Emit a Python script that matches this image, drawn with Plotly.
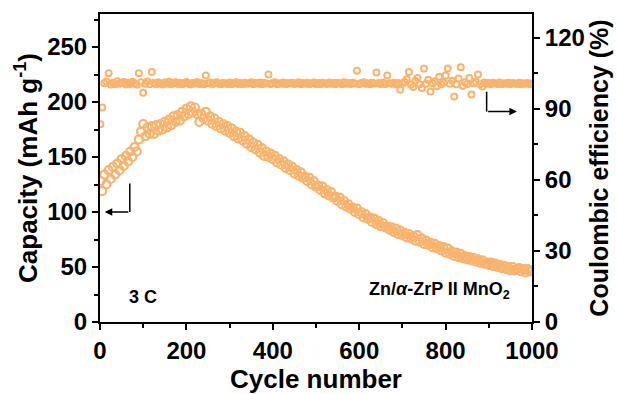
import plotly.graph_objects as go

cycles = [1] + list(range(5, 1001, 5))

capacity = [128, 119, 134, 125, 138, 130, 141, 134, 144, 138,
            148, 142, 151, 146, 155, 150, 159, 155, 166, 173,
            180, 169, 177, 171, 178, 171, 179, 174, 180, 175,
            182, 177, 184, 179, 187, 182, 188, 183, 191, 187,
            194, 189, 196, 191, 195, 189, 182, 189, 185, 191,
            183, 187, 180, 185, 178, 182, 176, 180, 174, 178,
            172, 176, 169, 173, 167, 172, 165, 169, 162, 166,
            159, 163, 157, 161, 154, 158, 151, 155, 150, 153,
            148, 151, 145, 148, 143, 146, 140, 143, 138, 141,
            135, 138, 133, 136, 131, 132, 128, 131, 125, 128,
            123, 124, 120, 123, 117, 120, 115, 118, 113, 114,
            110, 113, 107, 110, 105, 107, 103, 104, 100, 103,
            98, 100, 95, 98, 94, 95, 91, 94, 89, 92,
            87, 90, 86, 87, 84, 86, 82, 85, 80, 83,
            79, 81, 77, 80, 76, 78, 74, 79, 73, 76,
            71, 74, 70, 72, 68, 71, 67, 69, 65, 68,
            63, 67, 62, 64, 60, 63, 59, 62, 58, 60,
            57, 59, 56, 58, 55, 57, 54, 56, 53, 54,
            52, 54, 51, 53, 50, 52, 49, 51, 48, 50,
            47, 50, 47, 48, 49, 46, 48, 45, 48, 46,
            47]

efficiency = [83.5, 90.5, 100.8, 101.5, 105.0, 100.2, 101.0, 100.4, 101.6, 100.6,
              100.9, 101.3, 100.2, 101.0, 100.5, 101.4, 100.7, 100.1, 105.0, 101.2,
              96.8, 100.6, 101.5, 100.3, 105.5, 101.0, 100.4, 101.2, 100.8, 100.2,
              101.1, 100.6, 101.4, 100.3, 100.9, 101.2, 100.5, 101.0, 100.4, 100.8,
              101.3, 100.6, 100.2, 101.0, 100.7, 101.3, 100.5, 100.9, 100.3, 104.0,
              100.8, 101.1, 100.4, 100.9, 101.2, 100.6, 100.3, 101.0, 100.7, 100.5,
              101.1, 100.4, 100.8, 101.2, 100.5, 100.9, 100.3, 101.0, 100.6, 100.8,
              101.2, 100.4, 100.9, 100.6, 101.1, 100.3, 101.0, 100.7, 104.5, 100.5,
              100.9, 101.2, 100.4, 100.8, 100.6, 101.1, 100.3, 100.9, 100.7, 101.0,
              100.5, 100.8, 101.2, 100.4, 100.9, 100.6, 101.0, 100.3, 100.8, 101.1,
              100.5, 100.9, 100.4, 101.0, 100.7, 100.5, 101.1, 100.6, 100.9, 100.3,
              101.0, 100.8, 100.4, 101.2, 100.6, 100.9, 100.5, 101.0, 100.7, 106.0,
              100.4, 100.9, 101.2, 100.6, 100.8, 100.3, 101.0, 100.7, 105.3, 100.9,
              100.5, 101.1, 100.4, 104.0, 100.8, 100.6, 101.0, 100.3, 100.9, 98.0,
              100.7, 101.3, 102.5, 105.5, 100.2, 99.2, 101.8, 103.0, 100.4, 98.8,
              107.0, 100.6, 102.2, 97.3, 100.9, 101.6, 99.5, 103.5, 100.3, 101.0,
              104.0, 107.0, 100.6, 101.8, 95.2, 100.4, 102.8, 107.5, 99.6, 101.2,
              100.5, 103.0, 96.0, 100.8, 101.4, 104.5, 100.3, 99.4, 101.1, 100.6,
              100.9, 100.4, 101.0, 100.7, 100.5, 101.1, 100.3, 100.8, 100.6, 101.0,
              100.4, 100.9, 100.7, 100.5, 101.0, 100.3, 100.8, 100.6, 100.9, 100.4,
              100.7]

cap_ticks = [0, 50, 100, 150, 200, 250]
ce_ticks = [0, 30, 60, 90, 120]
cycle_ticks = [0, 200, 400, 600, 800, 1000]

orange = "#F8B36D"
font_family = "Liberation Sans, Arial, sans-serif"

fig = go.Figure()
fig.add_trace(go.Scatter(
    x=cycles, y=capacity, mode="markers", yaxis="y",
    marker=dict(symbol="circle-open", size=8, color=orange, line=dict(width=2.2, color=orange)),
    showlegend=False))
fig.add_trace(go.Scatter(
    x=cycles, y=efficiency, mode="markers", yaxis="y2",
    marker=dict(symbol="circle-open", size=6, color=orange, line=dict(width=2, color=orange)),
    showlegend=False))

axis_common = dict(
    showline=True, linecolor="black", linewidth=2, showgrid=False, zeroline=False,
    ticks="outside", ticklen=6, tickwidth=2, tickcolor="black",
    tickfont=dict(family=font_family, size=24, color="black", weight="bold"),
)

fig.update_layout(
    width=617, height=394,
    margin=dict(l=100, r=85, t=12, b=66),
    plot_bgcolor="white", paper_bgcolor="white",
    font=dict(family=font_family, color="black"),
    xaxis=dict(
        range=[0, 1000], tickvals=cycle_ticks, mirror=True,
        minor=dict(dtick=100, ticks="outside", ticklen=4, tickwidth=1.5, tickcolor="black"),
        title=dict(text="<b>Cycle number</b>", font=dict(family=font_family, size=26), standoff=0),
        **axis_common),
    yaxis=dict(
        range=[0, 280], tickvals=cap_ticks,
        minor=dict(dtick=25, ticks="outside", ticklen=4, tickwidth=1.5, tickcolor="black"),
        title=dict(text="<b>Capacity (mAh g<sup>-1</sup>)</b>", font=dict(family=font_family, size=26), standoff=2),
        **axis_common),
    yaxis2=dict(
        range=[0, 130], tickvals=ce_ticks, overlaying="y", side="right",
        minor=dict(dtick=15, ticks="outside", ticklen=4, tickwidth=1.5, tickcolor="black"),
        title=dict(text="<b>Coulombic efficiency (%)</b>", font=dict(family=font_family, size=25), standoff=2),
        **axis_common),
)

# left arrow (capacity)
fig.add_shape(type="line", xref="x", yref="y", x0=69, y0=100, x1=69, y1=126,
              line=dict(color="black", width=1.5))
fig.add_annotation(x=11, y=100, xref="x", yref="y", ax=69, ay=100, axref="x", ayref="y",
                   showarrow=True, arrowhead=2, arrowsize=1, arrowwidth=1.5, arrowcolor="black", text="")
# right arrow (efficiency)
fig.add_shape(type="line", xref="x", yref="y2", x0=895, y0=88.8, x1=895, y1=97.2,
              line=dict(color="black", width=1.5))
fig.add_annotation(x=965, y=88.8, xref="x", yref="y2", ax=895, ay=88.8, axref="x", ayref="y2",
                   showarrow=True, arrowhead=2, arrowsize=1, arrowwidth=1.5, arrowcolor="black", text="")

fig.add_annotation(x=62, y=23, xref="x", yref="y", xanchor="left", yanchor="middle",
                   text="<b>3 C</b>", showarrow=False,
                   font=dict(family=font_family, size=18, color="black"))
fig.add_annotation(x=953, y=29, xref="x", yref="y", xanchor="right", yanchor="middle",
                   text="<b>Zn/<i>α</i>-ZrP II MnO<sub>2</sub></b>", showarrow=False,
                   font=dict(family=font_family, size=18, color="black"))

fig.write_html("out.html")
